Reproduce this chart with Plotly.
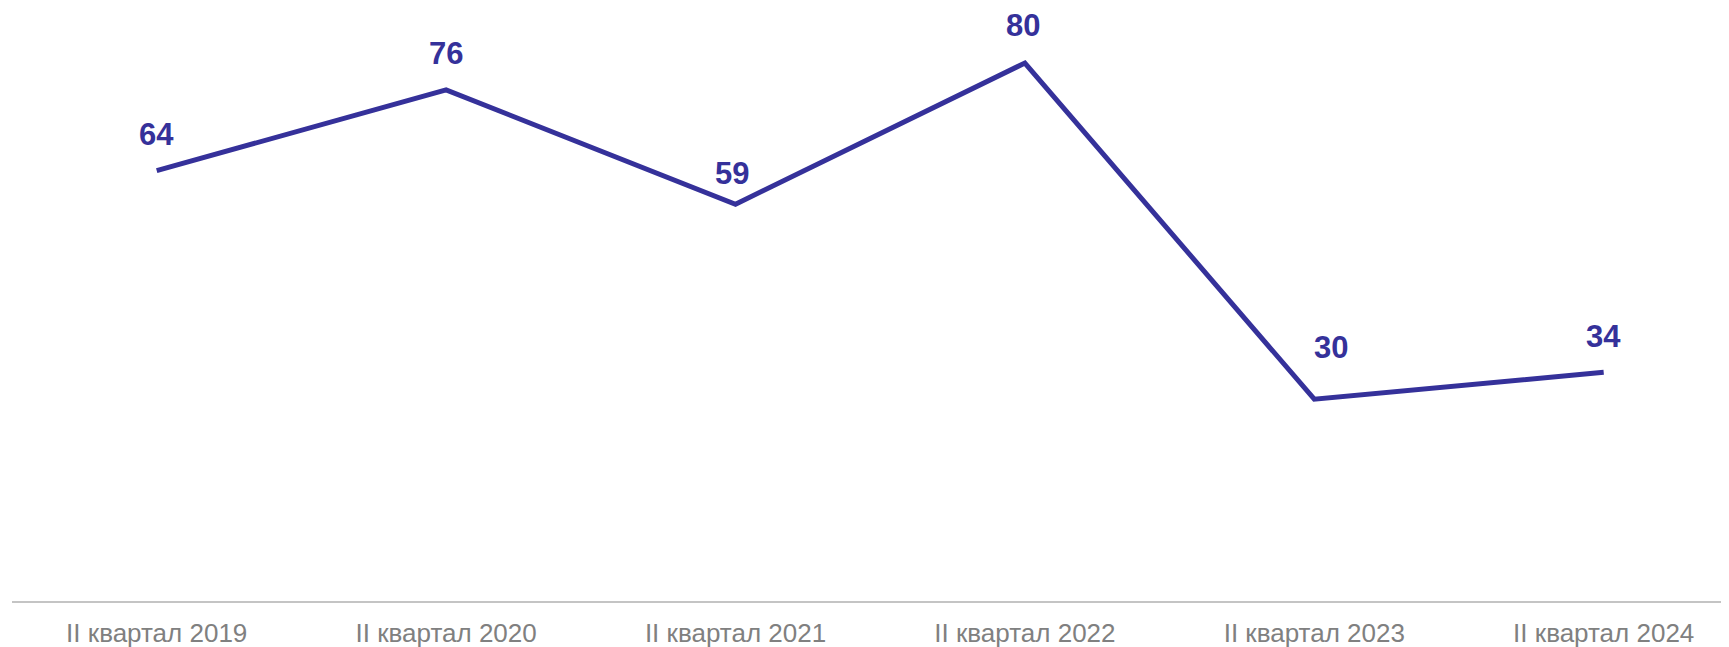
import plotly.graph_objects as go

categories = ["II квартал 2019", "II квартал 2020", "II квартал 2021",
              "II квартал 2022", "II квартал 2023", "II квартал 2024"]
values = [64, 76, 59, 80, 30, 34]

# label offsets (style) in pixels
label_dx = [0, 0, -4, -2, 17, 0]
label_dy = [36, 36, 31, 38, 52, 36]

line_color = "#35319A"

fig = go.Figure()
fig.add_trace(go.Scatter(
    x=categories, y=values, mode="lines",
    line=dict(color=line_color, width=5),
    hoverinfo="skip", showlegend=False,
))

for c, v, dx, dy in zip(categories, values, label_dx, label_dy):
    fig.add_annotation(
        x=c, y=v, text=f"<b>{v}</b>", showarrow=False,
        xshift=dx, yshift=dy,
        font=dict(family="Liberation Sans, Arial", size=31, color=line_color),
    )

fig.update_layout(
    width=1721, height=639,
    margin=dict(l=4, r=0, t=0, b=46),
    paper_bgcolor="white", plot_bgcolor="white",
    xaxis=dict(
        type="category", range=[-0.5, 5.433],
        showgrid=False, zeroline=False,
        showline=True, linecolor="#c4c4c4", linewidth=2,
        ticks="", ticklabelstandoff=8,
        tickfont=dict(family="Liberation Sans, Arial", size=26, color="#808080"),
    ),
    yaxis=dict(range=[0, 88.18], visible=False, showgrid=False, zeroline=False),
)

fig.write_html("out.html")
